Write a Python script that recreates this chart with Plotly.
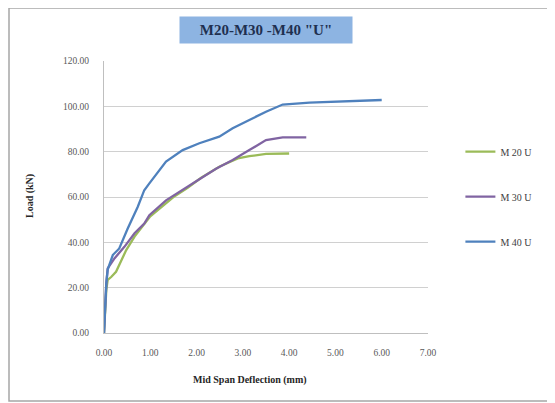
import plotly.graph_objects as go

# Data (Mid span deflection in mm, Load in kN)
m20_x = [0.00, 0.02, 0.05, 0.08, 0.16, 0.26, 0.37, 0.48, 0.66, 0.87, 1.00, 1.24, 1.50, 1.80, 2.10, 2.50, 2.89, 3.14, 3.50, 4.00]
m20_y = [0.00, 10.0, 19.0, 23.4, 24.8, 27.0, 32.0, 36.6, 42.5, 48.3, 51.5, 55.5, 60.0, 64.0, 68.5, 73.5, 77.0, 78.0, 79.0, 79.2]

m30_x = [0.00, 0.02, 0.05, 0.08, 0.23, 0.44, 0.66, 0.87, 0.98, 1.34, 1.70, 2.06, 2.42, 2.78, 3.14, 3.50, 3.86, 4.37]
m30_y = [0.00, 12.0, 22.0, 28.5, 33.0, 38.0, 44.0, 48.3, 52.0, 58.5, 63.0, 67.8, 72.5, 76.3, 80.7, 85.1, 86.3, 86.3]

m40_x = [0.00, 0.02, 0.05, 0.08, 0.19, 0.33, 0.51, 0.73, 0.87, 0.98, 1.34, 1.70, 2.06, 2.49, 2.78, 3.14, 3.50, 3.86, 4.44, 6.00]
m40_y = [0.00, 12.0, 22.0, 28.0, 34.4, 37.3, 46.0, 55.7, 63.0, 66.0, 75.6, 80.7, 83.7, 86.6, 90.3, 94.0, 97.6, 100.8, 101.6, 102.8]

x_ticks = [0, 1, 2, 3, 4, 5, 6, 7]
y_ticks = [0, 20, 40, 60, 80, 100, 120]

series = [
    ("M 20 U", m20_x, m20_y, "#9BBB59"),
    ("M 30 U", m30_x, m30_y, "#8064A2"),
    ("M 40 U", m40_x, m40_y, "#4F81BD"),
]

fig = go.Figure()
for i, (name, xs, ys, col) in enumerate(series):
    fig.add_trace(go.Scatter(
        x=xs, y=ys, mode="lines", name=name, legendgroup=str(i),
        line=dict(color=col, width=2.3),
    ))

serif = "Liberation Serif"
L, T, PW, PH = 96, 53, 324, 272  # plot area in figure pixels

def px(fx):
    return (fx - L) / PW

def py(fy):
    return (T + PH - fy) / PH

fig.update_layout(
    width=555, height=403,
    margin=dict(l=L, r=555 - L - PW, t=T, b=403 - T - PH),
    paper_bgcolor="white", plot_bgcolor="white",
    font=dict(family=serif, color="#404040"),
    showlegend=True,
    legend=dict(
        x=1.1, y=0.72, xanchor="left", yanchor="top",
        font=dict(family=serif, size=10, color="#404040"),
        tracegroupgap=26, traceorder="grouped",
        bgcolor="rgba(0,0,0,0)", itemwidth=30,
    ),
    xaxis=dict(
        range=[0, 7], tickvals=x_ticks,
        ticktext=[f"{v:.2f}" for v in x_ticks],
        showgrid=False, zeroline=False,
        showline=True, linecolor="#BFBFBF", linewidth=1,
        ticks="", tickfont=dict(family=serif, size=9.5, color="#595959"),
        ticklabelstandoff=11,
    ),
    yaxis=dict(
        range=[0, 120], tickvals=y_ticks,
        ticktext=[f"{v:.2f}" for v in y_ticks],
        showgrid=True, gridcolor="#D0D0D0", gridwidth=1,
        zeroline=False, showline=True, linecolor="#BFBFBF", linewidth=1,
        ticks="", tickfont=dict(family=serif, size=9.5, color="#595959"),
        ticklabelstandoff=12,
    ),
    annotations=[
        dict(text="<b>M20-M30 -M40 \"U\"</b>", x=px(258), y=py(22), xref="paper", yref="paper",
             xanchor="center", yanchor="middle",
             showarrow=False, font=dict(family=serif, size=15, color="#1F3050"),
             bgcolor="#8DB4E2", borderpad=4, width=164, height=18),
        dict(text="<b>Mid Span Deflection (mm)</b>", x=px(242), y=py(372), xref="paper", yref="paper",
             showarrow=False, font=dict(family=serif, size=10, color="#262626"),
             xanchor="center", yanchor="middle"),
        dict(text="<b>Load (kN)</b>", x=px(22), y=py(188), xref="paper", yref="paper",
             showarrow=False, textangle=-90, font=dict(family=serif, size=10, color="#262626"),
             xanchor="center", yanchor="middle"),
    ],
    shapes=[
        dict(type="rect", xref="paper", yref="paper",
             x0=px(1), x1=px(570), y0=py(393), y1=py(0),
             line=dict(color="#A6A6A6", width=1.5), fillcolor="rgba(0,0,0,0)"),
    ],
)

fig.write_html("out.html")
